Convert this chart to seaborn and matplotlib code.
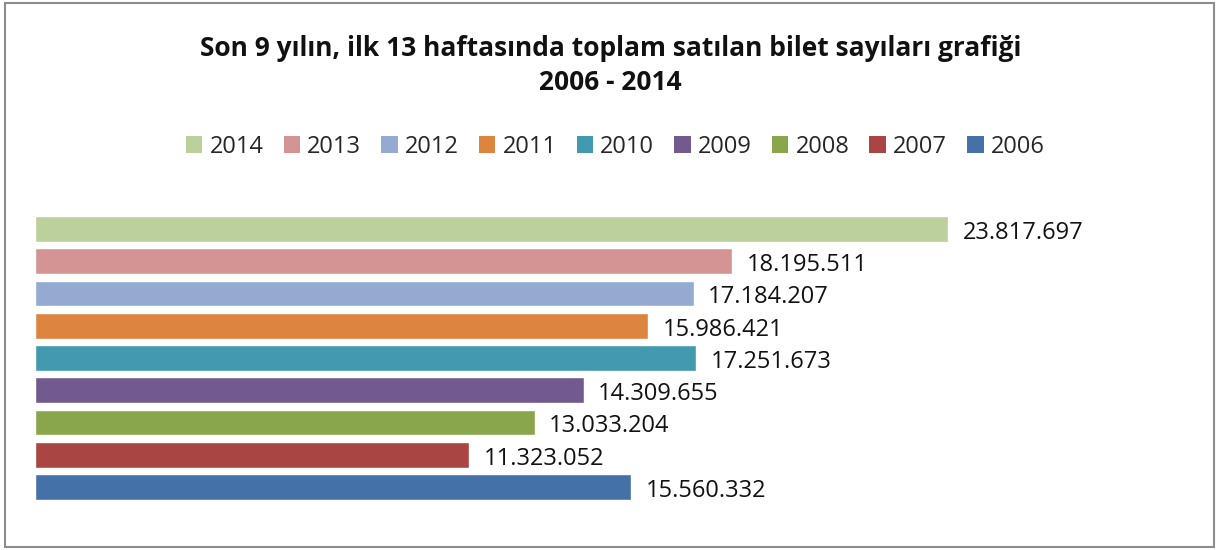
import matplotlib
matplotlib.use("Agg")
import matplotlib.pyplot as plt
import seaborn as sns
import pandas as pd
from matplotlib.patches import Patch

years = ["2014", "2013", "2012", "2011", "2010", "2009", "2008", "2007", "2006"]
tickets = [23817697, 18195511, 17184207, 15986421, 17251673, 14309655, 13033204, 11323052, 15560332]
colors = ["#BBD09A", "#D49494", "#94AAD1", "#DD843E", "#4399B0", "#735A8E", "#89A64D", "#A94644", "#4472A8"]

df = pd.DataFrame({"year": years, "tickets": tickets})

sns.set_theme(style="white")
plt.rcParams["font.family"] = ["Open Sans", "DejaVu Sans"]

fig = plt.figure(figsize=(12.16, 5.5), dpi=100)
ax = fig.add_axes([35 / 1216, 1 - 503 / 550, 1150 / 1216, 290 / 550])

sns.barplot(data=df, y="year", x="tickets", hue="year", order=years, hue_order=years,
            palette=colors, dodge=False, width=0.8, orient="h", ax=ax, legend=False,
            saturation=1)

# value labels with dot thousands separator
for i, v in enumerate(tickets):
    ax.text(v + 380000, i + 0.12, f"{v:,}".replace(",", "."), va="center", ha="left",
            fontsize=17, color="#111111")

ax.set_xlim(0, 30000000)
ax.set_ylim(8.5, -0.5)
ax.axis("off")

handles = [Patch(facecolor=c, edgecolor="none", label=y) for y, c in zip(years, colors)]
fig.legend(handles=handles, loc="center", bbox_to_anchor=(0.506, 1 - 147 / 550), ncol=9,
           frameon=False, fontsize=17, handlelength=0.7, handleheight=0.7,
           handletextpad=0.3, columnspacing=0.85)

fig.text(0.502, 1 - 48 / 550, "Son 9 yılın, ilk 13 haftasında toplam satılan bilet sayıları grafiği",
         ha="center", va="center", fontsize=19, fontweight="bold", color="#111111")
fig.text(0.502, 1 - 82 / 550, "2006 - 2014", ha="center", va="center", fontsize=19,
         fontweight="bold", color="#111111")

# chart border
border = plt.Rectangle((5 / 1216, 3 / 550), 1209 / 1216, 544 / 550, transform=fig.transFigure,
                       fill=False, edgecolor="#8C8C8C", linewidth=1.5)
fig.patches.append(border)

fig.savefig("out.png", dpi=100)
